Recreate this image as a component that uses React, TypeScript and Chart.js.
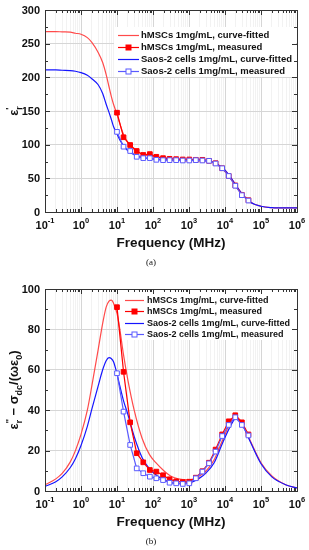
import React, { useEffect, useRef } from 'react';
import { Chart, registerables } from 'chart.js';

Chart.register(...registerables);

// ---------- data ----------
const fitFreq = [0.1, 0.2, 0.3, 0.5, 0.7, 1, 1.5, 2, 3, 4, 5, 6, 7, 8, 10, 12, 15, 20, 30, 50, 80, 120, 200, 300, 500, 1000, 2000, 3000, 5000, 8000, 10000, 15000, 20000, 30000, 50000, 100000, 200000, 500000, 1000000];

// (a) real permittivity, curve-fitted
const hFitA = [268, 268, 267.5, 267, 265.5, 264, 259, 252, 237, 222, 204, 186, 171, 160, 145, 131, 116, 103, 93, 86, 83.5, 82, 80.5, 79.5, 79, 78.5, 78, 77, 73.5, 67, 62, 50, 40, 27, 15, 8.5, 6.5, 6, 6];
const sFitA = [211, 211, 210.5, 210, 209, 207, 203, 198, 189, 176, 160, 148, 137, 127, 116, 107, 99, 91, 85, 81, 79.5, 78.5, 78, 77.5, 77.5, 77, 76.5, 76, 73, 66.5, 62, 50, 40, 27, 15, 8.5, 6.5, 6, 6];

// (b) loss, curve-fitted
const hFitB = [3, 6, 8.7, 14.3, 20, 28, 40, 52, 70, 83, 91, 94, 94.5, 93, 88, 80, 68, 55, 40, 26, 18, 14, 10, 7.5, 6, 5.5, 7.5, 10, 15.5, 24, 28, 35, 37, 33.5, 25, 14, 7.5, 3, 1.5];
const sFitB = [2.3, 4.6, 7, 11.5, 16, 22.5, 32, 40.5, 52, 60, 64.5, 66, 65.5, 64, 58, 52, 45, 38, 27, 16.5, 11, 8, 5.5, 4.3, 3.7, 4, 6.5, 9, 14, 22.5, 26.5, 33, 36, 33, 24.5, 13.5, 7, 3, 1.5];

const measFreq = [10, 15.2, 23.2, 35.3, 53.7, 81.8, 124, 190, 289, 440, 670, 1020, 1550, 2360, 3600, 5480, 8340, 12700, 19300, 29400, 44800];
const hMeasA = [147.5, 111, 99.5, 90.6, 84.7, 86, 82, 80, 79, 78.5, 78, 78, 77.5, 77.5, 76, 72.5, 65, 53.5, 39.5, 25.5, 17.5];
const sMeasA = [119, 97, 90.6, 82, 80, 80, 77.5, 77, 77, 77, 76.5, 76.5, 77, 76.5, 76, 72, 65, 53.5, 39, 25, 17];
const hMeasB = [91, 59, 34, 18.7, 14.2, 10.4, 9.6, 7.8, 5.8, 4.8, 4.4, 4.6, 6.6, 9.8, 14, 20.5, 28, 34.5, 37.5, 34, 28];
const sMeasB = [58.3, 39.3, 22.8, 11.2, 8.8, 7.1, 6.3, 5.4, 4.1, 3.8, 3.5, 3.8, 6.3, 9.6, 13.7, 19.5, 27.2, 32.7, 36.5, 32.7, 27.5];

const xTickVals = [0.1, 1, 10, 100, 1000, 10000, 100000, 1000000];
const xTickExps = ['-1', '0', '1', '2', '3', '4', '5', '6'];
const yTicksA = [0, 50, 100, 150, 200, 250, 300];
const yTicksB = [0, 20, 40, 60, 80, 100];
const legendLabels = [
  'hMSCs 1mg/mL, curve-fitted',
  'hMSCs 1mg/mL, measured',
  'Saos-2 cells 1mg/mL, curve-fitted',
  'Saos-2 cells 1mg/mL, measured',
];
const xTitle = 'Frequency (MHz)';

const RED_FIT = '#ff4a4a';
const RED_MEAS = '#ff0000';
const BLUE_FIT = '#1515ff';
const BLUE_MEAS = '#5a5aff';
const FONT = '"Liberation Sans", Arial, Helvetica, sans-serif';

type Part = { t: string; s?: 'sub' | 'sup' };

const yTitleA: Part[] = [{ t: 'ε' }, { t: 'r', s: 'sub' }, { t: "'", s: 'sup' }];
const yTitleB: Part[] = [
  { t: 'ε' }, { t: 'r', s: 'sub' }, { t: "''", s: 'sup' },
  { t: ' − σ' }, { t: 'dc', s: 'sub' }, { t: '/(ωε' }, { t: '0', s: 'sub' }, { t: ')' },
];

// all grid positions on the log axis
const xGrid: number[] = [];
xTickVals.forEach((d, i) => {
  if (i === xTickVals.length - 1) { xGrid.push(d); return; }
  for (let m = 1; m <= 9; m++) xGrid.push(d * m);
});

const isDecade = (v: number) => Math.abs(Math.log10(v) - Math.round(Math.log10(v))) < 1e-6;

type PanelCfg = {
  height: number;
  yMax: number;
  yTicks: number[];
  yMinorStep: number;
  fits: [number[], number[]];
  meas: [number[], number[]];
  yTitle: Part[];
  caption: string;
  legend: { box: [number, number, number, number]; lineX0: number; lineX1: number; textX: number; y0: number; dy: number; font: number };
};

function makePlugin(cfg: PanelCfg) {
  return {
    id: 'custom-decor',
    beforeDatasetsDraw(chart: any) {
      const { ctx } = chart;
      const [bx, by, bw, bh] = cfg.legend.box;
      ctx.save();
      ctx.fillStyle = '#ffffff';
      ctx.fillRect(bx, by, bw, bh);
      ctx.restore();
    },
    afterDraw(chart: any) {
      const { ctx, chartArea: a } = chart;
      const xs = chart.scales.x;
      const ys = chart.scales.y;
      ctx.save();
      // frame
      ctx.strokeStyle = '#333';
      ctx.lineWidth = 1;
      ctx.strokeRect(Math.round(a.left) + 0.5, Math.round(a.top) + 0.5, Math.round(a.right - a.left), Math.round(a.bottom - a.top));
      // x ticks (inward, top and bottom)
      ctx.beginPath();
      xGrid.forEach((v) => {
        const px = Math.round(xs.getPixelForValue(v)) + 0.5;
        const len = isDecade(v) ? 5 : 3;
        ctx.moveTo(px, a.bottom); ctx.lineTo(px, a.bottom - len);
        ctx.moveTo(px, a.top); ctx.lineTo(px, a.top + len);
      });
      // y ticks
      for (let v = 0; v <= cfg.yMax + 1e-9; v += cfg.yMinorStep) {
        const py = Math.round(ys.getPixelForValue(v)) + 0.5;
        const major = cfg.yTicks.some((t) => Math.abs(t - v) < 1e-9);
        const len = major ? 5 : 3;
        ctx.moveTo(a.left, py); ctx.lineTo(a.left + len, py);
        ctx.moveTo(a.right, py); ctx.lineTo(a.right - len, py);
      }
      ctx.stroke();

      ctx.fillStyle = '#111';
      // x tick labels
      xTickVals.forEach((v, i) => {
        const px = xs.getPixelForValue(v);
        ctx.font = `bold 11px ${FONT}`;
        const wb = ctx.measureText('10').width;
        ctx.font = `bold 7.5px ${FONT}`;
        const we = ctx.measureText(xTickExps[i]).width;
        const start = px - (wb + we) / 2;
        ctx.textAlign = 'left';
        ctx.textBaseline = 'alphabetic';
        ctx.font = `bold 11px ${FONT}`;
        ctx.fillText('10', start, a.bottom + 16.5);
        ctx.font = `bold 7.5px ${FONT}`;
        ctx.fillText(xTickExps[i], start + wb, a.bottom + 11);
      });
      // y tick labels
      ctx.font = `bold 11px ${FONT}`;
      ctx.textAlign = 'right';
      ctx.textBaseline = 'middle';
      cfg.yTicks.forEach((v) => {
        ctx.fillText(String(v), a.left - 5, ys.getPixelForValue(v) + 0.5);
      });
      // x title
      ctx.font = `bold 13.5px ${FONT}`;
      ctx.textAlign = 'center';
      ctx.textBaseline = 'alphabetic';
      ctx.fillText(xTitle, (a.left + a.right) / 2, a.bottom + 34.5);
      // caption
      ctx.font = `9px "Liberation Serif", "Times New Roman", serif`;
      ctx.textBaseline = 'middle';
      ctx.fillText(cfg.caption, 151, a.bottom + 50.5);
      // y title (rotated)
      const main = `bold 13px ${FONT}`;
      const small = `bold 9px ${FONT}`;
      ctx.textAlign = 'left';
      ctx.textBaseline = 'alphabetic';
      let total = 0;
      let prevSubStart = 0;
      let prevSubW = 0;
      let prevWasSub = false;
      const placed: { t: string; x: number; dy: number; f: string }[] = [];
      cfg.yTitle.forEach((p) => {
        const f = p.s ? small : main;
        ctx.font = f;
        const w = ctx.measureText(p.t).width;
        if (p.s === 'sup' && prevWasSub) {
          placed.push({ t: p.t, x: prevSubStart, dy: -6, f });
          total = prevSubStart + Math.max(prevSubW, w);
          prevWasSub = false;
          return;
        }
        const dy = p.s === 'sub' ? 3.5 : p.s === 'sup' ? -6 : 0;
        placed.push({ t: p.t, x: total, dy, f });
        if (p.s === 'sub') { prevSubStart = total; prevSubW = w; prevWasSub = true; } else prevWasSub = false;
        total += w;
      });
      ctx.translate(18, (a.top + a.bottom) / 2);
      ctx.rotate(-Math.PI / 2);
      placed.forEach((p) => {
        ctx.font = p.f;
        ctx.fillText(p.t, p.x - total / 2, p.dy);
      });
      ctx.setTransform(1, 0, 0, 1, 0, 0);

      // legend
      const L = cfg.legend;
      const styles = [
        { c: RED_FIT, m: null },
        { c: RED_MEAS, m: 'fill' },
        { c: BLUE_FIT, m: null },
        { c: BLUE_MEAS, m: 'open' },
      ];
      ctx.font = `bold ${L.font}px ${FONT}`;
      ctx.textAlign = 'left';
      ctx.textBaseline = 'middle';
      styles.forEach((s, i) => {
        const y = Math.round(L.y0 + i * L.dy) + 0.5;
        ctx.strokeStyle = s.c;
        ctx.lineWidth = 1.2;
        ctx.beginPath();
        ctx.moveTo(L.lineX0, y); ctx.lineTo(L.lineX1, y);
        ctx.stroke();
        ctx.lineWidth = 1;
        if (s.m) {
          const mx = (L.lineX0 + L.lineX1) / 2;
          const half = 2.5;
          ctx.fillStyle = s.m === 'fill' ? RED_MEAS : '#fff';
          ctx.fillRect(mx - half, y - half, half * 2, half * 2);
          ctx.strokeStyle = s.m === 'fill' ? RED_MEAS : BLUE_MEAS;
          ctx.strokeRect(mx - half, y - half, half * 2, half * 2);
        }
        ctx.fillStyle = '#111';
        ctx.fillText(legendLabels[i], L.textX, y);
      });
      ctx.restore();
    },
  };
}

function Panel({ cfg }: { cfg: PanelCfg }) {
  const ref = useRef<HTMLCanvasElement | null>(null);
  useEffect(() => {
    if (!ref.current) return;
    const pts = (xs: number[], ys: number[]) => xs.map((x, i) => ({ x, y: ys[i] }));
    const chart = new Chart(ref.current, {
      type: 'scatter',
      data: {
        datasets: [
          {
            label: legendLabels[0], data: pts(fitFreq, cfg.fits[0]), showLine: true,
            borderColor: RED_FIT, borderWidth: 1.2, pointRadius: 0, cubicInterpolationMode: 'monotone', order: 3,
          },
          {
            label: legendLabels[1], data: pts(measFreq, cfg.meas[0]), showLine: true,
            borderColor: RED_MEAS, backgroundColor: RED_MEAS, borderWidth: 1.2, pointStyle: 'rect', pointRadius: 3.3,
            pointBackgroundColor: RED_MEAS, pointBorderColor: RED_MEAS, pointBorderWidth: 1, order: 1,
          },
          {
            label: legendLabels[2], data: pts(fitFreq, cfg.fits[1]), showLine: true,
            borderColor: BLUE_FIT, borderWidth: 1.2, pointRadius: 0, cubicInterpolationMode: 'monotone', order: 2,
          },
          {
            label: legendLabels[3], data: pts(measFreq, cfg.meas[1]), showLine: true,
            borderColor: BLUE_MEAS, backgroundColor: '#ffffff', borderWidth: 1.2, pointStyle: 'rect', pointRadius: 3.3,
            pointBackgroundColor: '#ffffff', pointBorderColor: BLUE_MEAS, pointBorderWidth: 1, order: 0,
          },
        ] as any,
      },
      options: {
        animation: false,
        responsive: false,
        devicePixelRatio: 1,
        layout: { padding: { left: 45, right: 12, top: 10, bottom: cfg.height - 212 } },
        plugins: { legend: { display: false }, tooltip: { enabled: false }, title: { display: false } },
        scales: {
          x: {
            type: 'logarithmic', min: 0.1, max: 1000000,
            afterBuildTicks: (s: any) => { s.ticks = xGrid.map((v) => ({ value: v })); },
            ticks: { display: false },
            grid: {
              color: (c: any) => (c.tick && isDecade(c.tick.value) ? '#d6d6d6' : '#f2f2f2'),
              drawTicks: false, lineWidth: 1,
            },
            border: { display: false },
          },
          y: {
            type: 'linear', min: 0, max: cfg.yMax,
            afterBuildTicks: (s: any) => { s.ticks = cfg.yTicks.map((v) => ({ value: v })); },
            ticks: { display: false },
            grid: { color: '#d6d6d6', drawTicks: false, lineWidth: 1 },
            border: { display: false },
          },
        },
      } as any,
      plugins: [makePlugin(cfg) as any],
    });
    return () => chart.destroy();
  }, [cfg]);
  return <canvas ref={ref} width={309} height={cfg.height} style={{ display: 'block', width: 309, height: cfg.height }} />;
}

const panelA: PanelCfg = {
  height: 279,
  yMax: 300,
  yTicks: yTicksA,
  yMinorStep: 25,
  fits: [hFitA, sFitA],
  meas: [hMeasA, sMeasA],
  yTitle: yTitleA,
  caption: '(a)',
  legend: { box: [114, 27, 182, 50], lineX0: 118, lineX1: 139, textX: 141, y0: 35, dy: 11.9, font: 9.5 },
};

const panelB: PanelCfg = {
  height: 271,
  yMax: 100,
  yTicks: yTicksB,
  yMinorStep: 10,
  fits: [hFitB, sFitB],
  meas: [hMeasB, sMeasB],
  yTitle: yTitleB,
  caption: '(b)',
  legend: { box: [121, 12, 175, 49], lineX0: 125, lineX1: 144, textX: 147, y0: 21, dy: 11.35, font: 9 },
};

export default function App() {
  return (
    <div style={{ position: 'absolute', left: 0, top: 0, width: 309, height: 550, background: '#fff' }}>
      <Panel cfg={panelA} />
      <Panel cfg={panelB} />
    </div>
  );
}
